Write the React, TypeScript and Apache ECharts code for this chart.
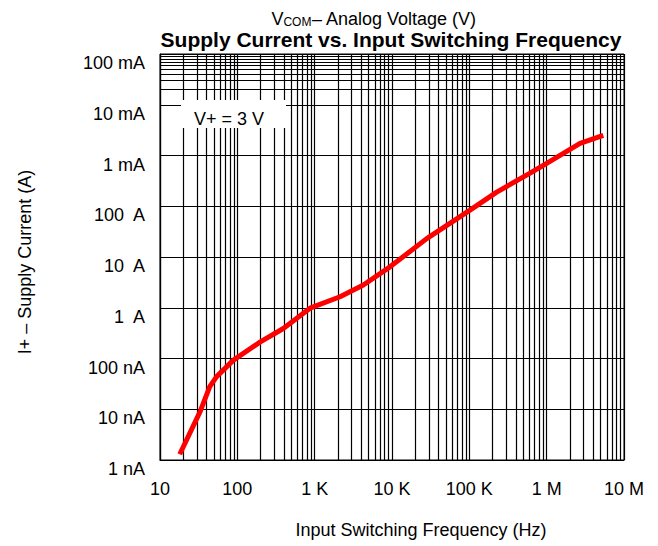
import React, { useEffect, useRef } from "react";
import * as echarts from "echarts";

// Measured curve: input switching frequency (Hz) vs supply current (A)
const frequencyHz = [18, 33, 44, 54, 89, 196, 393, 870, 2130, 4260, 9420, 28100, 102000, 226000, 610000, 1000000, 2700000, 5400000];
const supplyCurrentA = [1.3e-9, 9e-9, 2.8e-8, 4.4e-8, 9.3e-8, 2.1e-7, 3.9e-7, 9.8e-7, 1.65e-6, 2.8e-6, 6.4e-6, 2.3e-5, 8.4e-5, 1.9e-4, 4.5e-4, 7.0e-4, 1.74e-3, 2.5e-3];

// Axis ranges and tick labels
const xDecades = [10, 100, 1e3, 1e4, 1e5, 1e6, 1e7];
const xTickLabels = ["10", "100", "1 K", "10 K", "100 K", "1 M", "10 M"];
const yDecades = [1e-9, 1e-8, 1e-7, 1e-6, 1e-5, 1e-4, 1e-3, 1e-2, 1e-1];
const yTickLabels = ["1 nA", "10 nA", "100 nA", "1  A", "10  A", "100  A", "1 mA", "10 mA", "100 mA"];
const minorMultipliers = [2, 3, 4, 5, 6, 7, 8, 9];

const titleText = "Supply Current vs. Input Switching Frequency";
const subtitleText = "{v|V}{s|COM}{v|– Analog Voltage (V)}";
const xName = "Input Switching Frequency (Hz)";
const yName = "I+ – Supply Current (A)";
const legendText = "V+ = 3 V";

const FONT = "'Liberation Sans', Arial, Helvetica, sans-serif";

export default function App() {
  const ref = useRef<HTMLDivElement>(null);

  useEffect(() => {
    if (!ref.current) return;
    const chart = echarts.init(ref.current, undefined, { renderer: "svg" });

    const curve = frequencyHz.map((f, i) => [f, supplyCurrentA[i]]);

    const xMinor: number[] = [];
    xDecades.slice(0, -1).forEach((d) => minorMultipliers.forEach((m) => xMinor.push(d * m)));
    const yMinor: number[] = [];
    yDecades.slice(0, -1).forEach((d) => minorMultipliers.forEach((m) => yMinor.push(d * m)));

    const gridLines = [
      ...xMinor.map((v) => ({ xAxis: v })),
      ...yMinor.map((v) => ({ yAxis: v })),
    ];

    const xLabel = (v: number) => {
      const e = Math.round(Math.log10(v));
      return xTickLabels[e - 1] ?? "";
    };
    const yLabel = (v: number) => {
      const e = Math.round(Math.log10(v));
      return yTickLabels[e + 9] ?? "";
    };

    chart.setOption({
      animation: false,
      backgroundColor: "#ffffff",
      textStyle: { fontFamily: FONT, color: "#000" },
      title: [
        {
          text: subtitleText,
          left: 374,
          top: 10,
          padding: 0,
          textAlign: "center",
          textStyle: {
            fontFamily: FONT,
            fontWeight: "normal",
            color: "#000",
            lineHeight: 18,
            rich: {
              v: { fontSize: 18, lineHeight: 18, fontFamily: FONT, fontWeight: "normal", color: "#000" },
              s: { fontSize: 12, lineHeight: 12, fontFamily: FONT, fontWeight: "normal", color: "#000", padding: [6, 0, 0, 0] },
            },
          },
        },
        {
          text: titleText,
          left: 391,
          top: 29,
          padding: 0,
          textAlign: "center",
          textStyle: { fontFamily: FONT, fontSize: 21, lineHeight: 21, fontWeight: "bold", color: "#000" },
        },
      ],
      grid: {
        left: 160,
        right: 34,
        top: 54,
        bottom: 86,
        show: true,
        borderColor: "#000",
        borderWidth: 1,
        backgroundColor: "#fff",
      },
      xAxis: {
        type: "log",
        logBase: 10,
        min: xDecades[0],
        max: xDecades[xDecades.length - 1],
        splitNumber: 6,
        name: xName,
        nameLocation: "middle",
        nameGap: 61,
        nameTextStyle: { fontFamily: FONT, fontSize: 18, color: "#000", padding: [0, 0, 0, 58] },
        axisLine: { show: true, lineStyle: { color: "#000", width: 1.2 } },
        axisTick: { show: false },
        axisLabel: {
          formatter: xLabel,
          fontFamily: FONT,
          fontSize: 18,
          color: "#000",
          margin: 20,
          showMinLabel: true,
          showMaxLabel: true,
          hideOverlap: false,
        },
        splitLine: { show: true, lineStyle: { color: "#000", width: 1.2 } },
      },
      yAxis: {
        type: "log",
        logBase: 10,
        min: yDecades[0],
        max: yDecades[yDecades.length - 1],
        splitNumber: 8,
        name: yName,
        nameLocation: "middle",
        nameGap: 126,
        nameTextStyle: { fontFamily: FONT, fontSize: 18, color: "#000", padding: [0, 10, 0, 0] },
        axisLine: { show: true, lineStyle: { color: "#000", width: 1.2 } },
        axisTick: { show: false },
        axisLabel: {
          formatter: yLabel,
          fontFamily: FONT,
          fontSize: 18,
          color: "#000",
          margin: 15,
          verticalAlign: "top",
          lineHeight: 18,
          showMinLabel: true,
          showMaxLabel: true,
          hideOverlap: false,
        },
        splitLine: { show: true, lineStyle: { color: "#000", width: 1.2 } },
      },
      series: [
        {
          type: "line",
          name: "grid",
          data: [[xDecades[0], yDecades[0]]],
          symbol: "none",
          lineStyle: { width: 0, opacity: 0 },
          silent: true,
          z: 1,
          markLine: {
            silent: true,
            symbol: ["none", "none"],
            label: { show: false },
            emphasis: { disabled: true },
            animation: false,
            lineStyle: { color: "#000", width: 1.2, type: "solid", opacity: 1 },
            data: gridLines,
          },
        },
        {
          type: "line",
          name: "Supply current",
          data: curve,
          symbol: "none",
          lineStyle: { color: "#ff0000", width: 5 },
          z: 5,
        },
      ],
      graphic: [
        {
          type: "rect",
          z: 100,
          shape: { x: 181, y: 100, width: 105, height: 28 },
          style: { fill: "#ffffff", stroke: "#ffffff", lineWidth: 0 },
        },
        {
          type: "text",
          z: 101,
          x: 229,
          y: 119,
          style: {
            text: legendText,
            fontFamily: FONT,
            fontSize: 18,
            fill: "#000",
            textAlign: "center",
            textVerticalAlign: "middle",
          },
        },
      ],
    });

    return () => chart.dispose();
  }, []);

  return (
    <div
      ref={ref}
      style={{ position: "absolute", left: 0, top: 0, width: 658, height: 546 }}
    />
  );
}
